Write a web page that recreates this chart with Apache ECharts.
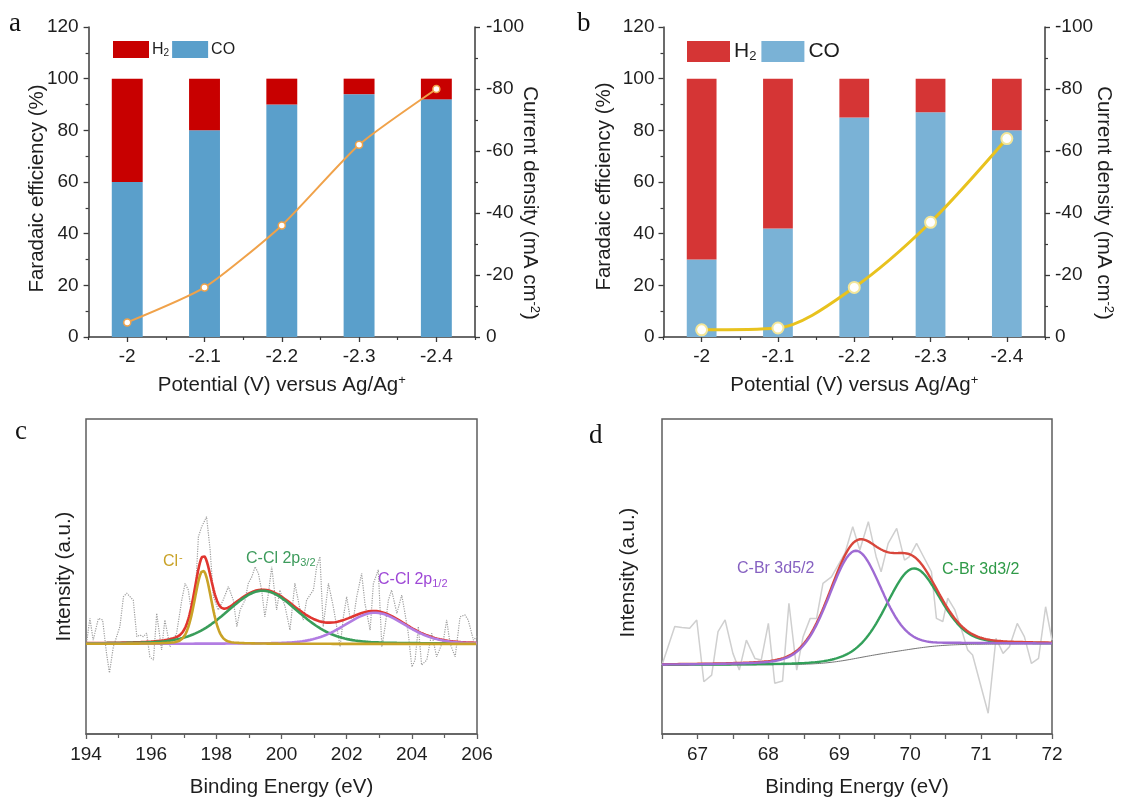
<!DOCTYPE html>
<html>
<head>
<meta charset="utf-8">
<script src="https://cdn.jsdelivr.net/npm/echarts@6/dist/echarts.min.js"></script>
<style>
  html, body { margin: 0; padding: 0; background: #fff; }
  #chart { width: 1125px; height: 801px; }
</style>
</head>
<body>
<div id="chart"></div>
<script>
// ---- Faradaic efficiency and current density versus potential ----
const potentials = ['-2', '-2.1', '-2.2', '-2.3', '-2.4'];
const feCO_a = [60, 80, 90, 94, 92];
const feH2_a = [40, 20, 10, 6, 8];
const current_a = [-4.7, -16, -36, -62, -80];
const feCO_b = [30, 42, 85, 87, 80];
const feH2_b = [70, 58, 15, 13, 20];
const current_b = [-2.3, -2.9, -16, -37, -64];
const feTicks = [0, 20, 40, 60, 80, 100, 120];
const currentTicks = [-100, -80, -60, -40, -20, 0];

// ---- Cl 2p spectrum: raw counts and fitted peaks ----
const clRawEnergy = [194.02, 194.12, 194.22, 194.38, 194.51, 194.63, 194.72, 194.84, 194.94, 195.04,
  195.15, 195.25, 195.35, 195.45, 195.56, 195.66, 195.76, 195.86, 195.96, 196.07,
  196.17, 196.32, 196.42, 196.58, 196.78, 196.94, 197.04, 197.14, 197.24, 197.35,
  197.45, 197.55, 197.65, 197.70, 197.81, 197.91, 198.06, 198.21, 198.37, 198.52,
  198.63, 198.73, 198.88, 198.98, 199.09, 199.19, 199.29, 199.39, 199.49, 199.60,
  199.70, 199.85, 199.95, 200.11, 200.26, 200.41, 200.57, 200.67, 200.77, 200.98,
  201.08, 201.18, 201.28, 201.44, 201.59, 201.80, 201.90, 202.00, 202.10, 202.20,
  202.31, 202.46, 202.56, 202.72, 202.82, 202.97, 203.08, 203.18, 203.28, 203.38,
  203.54, 203.69, 203.79, 203.89, 204.00, 204.10, 204.20, 204.30, 204.46, 204.61,
  204.76, 204.97, 205.07, 205.17, 205.33, 205.48, 205.63, 205.73, 205.89, 206.00];
const clRawIntensity = [29.0, 36.7, 29.8, 36.7, 36.2, 25.6, 19.4, 27.7, 30.9, 34.1,
  43.6, 44.7, 43.6, 42.5, 30.9, 31.4, 30.9, 32.0, 24.5, 23.5,
  38.3, 26.7, 36.2, 27.7, 32.0, 42.5, 47.8, 45.7, 38.3, 43.6,
  62.6, 65.8, 67.9, 69.0, 58.4, 43.6, 39.4, 42.5, 46.8, 42.5,
  34.1, 39.4, 42.5, 47.8, 49.9, 53.1, 51.0, 45.7, 37.2, 44.7,
  53.1, 39.4, 45.7, 40.4, 33.0, 47.8, 39.4, 36.2, 42.5, 45.7,
  53.1, 56.3, 34.1, 47.8, 40.4, 27.7, 37.2, 43.6, 37.2, 36.2,
  43.6, 51.0, 41.5, 33.0, 47.8, 52.1, 27.7, 34.1, 42.5, 45.7,
  38.3, 44.1, 38.3, 32.0, 21.3, 23.5, 34.1, 21.9, 23.5, 32.0,
  24.5, 29.8, 36.2, 28.8, 24.5, 37.2, 37.8, 36.2, 29.8, 31.0];
const clBaseline = 28.6;
const clPeakNames = ['Cl-', 'C-Cl 2p3/2', 'C-Cl 2p1/2'];
const clPeakCentres = [197.59, 199.42, 202.87];
const clPeakHeights = [23.3, 16.9, 9.9];
const clPeakFwhm = [0.6, 2.6, 2.2];

// ---- Br 3d spectrum: raw counts and fitted peaks ----
const brRawEnergy = [66.50, 66.68, 66.78, 66.89, 66.99, 67.09, 67.20, 67.29, 67.39, 67.50,
  67.59, 67.69, 67.81, 67.90, 68.00, 68.09, 68.20, 68.29, 68.40, 68.49,
  68.59, 68.68, 68.77, 68.89, 69.08, 69.19, 69.29, 69.41, 69.52, 69.59,
  69.69, 69.81, 69.92, 69.99, 70.09, 70.20, 70.30, 70.37, 70.46, 70.53,
  70.63, 70.74, 70.81, 70.88, 71.10, 71.21, 71.31, 71.40, 71.51, 71.61,
  71.71, 71.81, 71.91, 72.00];
const brRawIntensity = [21.9, 34.1, 33.8, 33.6, 36.2, 16.6, 18.7, 32.5, 36.2, 25.6,
  20.3, 29.8, 24.0, 23.5, 35.1, 16.1, 16.8, 41.5, 20.3, 30.9,
  36.7, 36.7, 47.8, 49.9, 57.4, 65.8, 58.4, 67.4, 56.3, 51.5,
  60.5, 65.3, 55.2, 56.3, 60.5, 55.8, 51.5, 36.7, 35.7, 43.1,
  39.4, 32.0, 26.7, 25.1, 6.6, 30.4, 25.6, 27.7, 35.1, 30.9,
  22.4, 24.0, 40.4, 29.8];
const brBackgroundLow = 21.9;
const brBackgroundHigh = 28.6;
const brPeakCentres = [69.22, 70.04];
const brPeakHeights = [34.2, 25.5];
const brPeakFwhm = [0.88, 0.88];

// ---- fit model helpers ----
function pseudoVoigt(x, centre, height, fwhm) {
  const t = (x - centre) / fwhm;
  return height * (0.8 * Math.exp(-4 * Math.LN2 * t * t) + 0.2 / (1 + 4 * t * t));
}
function energyGrid(from, to, step) {
  const out = [];
  const n = Math.round((to - from) / step);
  for (let i = 0; i <= n; i++) out.push(+(from + i * step).toFixed(3));
  return out;
}
const zip = (xs, ys) => xs.map((x, i) => [x, ys[i]]);

// Cl 2p components on a flat baseline
const clGrid = energyGrid(194, 206, 0.02);
const clComponents = clPeakCentres.map((c, k) =>
  clGrid.map(e => [e, clBaseline + pseudoVoigt(e, c, clPeakHeights[k], clPeakFwhm[k])]));
const clEnvelope = clGrid.map((e, i) =>
  [e, clBaseline + clComponents.reduce((s, comp) => s + comp[i][1] - clBaseline, 0)]);

// Br 3d components on a Shirley-type background
const brGrid = energyGrid(66.5, 72, 0.01);
const brPeakSum = brGrid.map(e =>
  brPeakCentres.reduce((s, c, k) => s + pseudoVoigt(e, c, brPeakHeights[k], brPeakFwhm[k]), 0));
const brCum = [0];
for (let i = 1; i < brGrid.length; i++) brCum.push(brCum[i - 1] + (brPeakSum[i] + brPeakSum[i - 1]) / 2);
const brBackground = brGrid.map((e, i) =>
  brBackgroundLow + (brBackgroundHigh - brBackgroundLow) * brCum[i] / brCum[brCum.length - 1]);
const brComponents = brPeakCentres.map((c, k) =>
  brGrid.map((e, i) => [e, brBackground[i] + pseudoVoigt(e, c, brPeakHeights[k], brPeakFwhm[k])]));
const brEnvelope = brGrid.map((e, i) => [e, brBackground[i] + brPeakSum[i]]);

// ---- styling ----
const sans = 'Liberation Sans, Arial, Helvetica, sans-serif';
const serif = 'Liberation Serif, Times New Roman, serif';
const ink = '#1e1e1e';
const axisInk = '#3a3a3a';
const frameInk = '#5e5e5e';
const tickFont = 19;
const nameFont = 20.5;

const supRich = { sup: { fontSize: 13, fontFamily: sans, color: ink, padding: [0, 0, 10, 0] } };

function feAxis(grid, gap, margin, shift) {
  return {
    type: 'value', gridIndex: grid, min: 0, max: 120, interval: 20, position: 'left',
    name: 'Faradaic efficiency (%)', nameLocation: 'middle', nameRotate: 90, nameGap: gap, nameMoveOverlap: false,
    nameTextStyle: { fontSize: nameFont, fontFamily: sans, color: ink, padding: [0, shift, 0, 0] },
    axisLine: { show: true, lineStyle: { color: axisInk, width: 1.5 } },
    axisTick: { show: true, length: 5, lineStyle: { color: axisInk, width: 1.3 } },
    minorTick: { show: true, splitNumber: 2, length: 3, lineStyle: { color: axisInk, width: 1.2 } },
    axisLabel: { fontSize: tickFont, fontFamily: sans, color: ink, margin: margin },
    splitLine: { show: false }
  };
}
function currentAxis(grid, gap, margin, shift) {
  return {
    type: 'value', gridIndex: grid, min: -100, max: 0, interval: 20, inverse: true, position: 'right',
    name: 'Current density (mA cm{sup|-2})', nameLocation: 'middle', nameRotate: -90, nameGap: gap,
    nameMoveOverlap: false,
    nameTextStyle: { fontSize: nameFont, fontFamily: sans, color: ink, rich: supRich, padding: [0, 0, 0, shift] },
    axisLine: { show: true, lineStyle: { color: axisInk, width: 1.5 } },
    axisTick: { show: true, length: 5, lineStyle: { color: axisInk, width: 1.3 } },
    minorTick: { show: true, splitNumber: 2, length: 3, lineStyle: { color: axisInk, width: 1.2 } },
    axisLabel: { fontSize: tickFont, fontFamily: sans, color: ink, margin: margin },
    splitLine: { show: false }
  };
}
function potentialAxis(grid) {
  return {
    type: 'category', gridIndex: grid, data: potentials, position: 'bottom',
    name: 'Potential (V) versus Ag/Ag{sup|+}', nameLocation: 'middle', nameGap: 37, nameMoveOverlap: false,
    nameTextStyle: { fontSize: nameFont, fontFamily: sans, color: ink, rich: supRich },
    axisLine: { show: true, lineStyle: { color: axisInk, width: 1.5 } },
    axisTick: { show: true, alignWithLabel: true, length: 5, lineStyle: { color: axisInk, width: 1.3 } },
    axisLabel: { fontSize: tickFont, fontFamily: sans, color: ink, margin: 10 },
    splitLine: { show: false }
  };
}
function potentialBoundaryAxis(grid) {
  // short ticks between the potential categories
  return {
    type: 'category', gridIndex: grid, data: potentials, position: 'bottom',
    axisLine: { show: false },
    axisTick: { show: true, length: 3, interval: 0, lineStyle: { color: axisInk, width: 1.2 } },
    axisLabel: { show: false }, splitLine: { show: false }
  };
}
function energyAxis(grid, min, max, interval, labelFilter, minor) {
  return {
    type: 'value', gridIndex: grid, min: min, max: max, interval: interval,
    name: 'Binding Energy (eV)', nameLocation: 'middle', nameGap: 43, nameMoveOverlap: false,
    nameTextStyle: { fontSize: nameFont, fontFamily: sans, color: ink },
    axisLine: { show: true, onZero: false, lineStyle: { color: frameInk, width: 1.5 } },
    axisTick: { show: true, length: 5, lineStyle: { color: frameInk, width: 1.3 } },
    minorTick: { show: minor, splitNumber: 2, length: 4, lineStyle: { color: frameInk, width: 1.2 } },
    axisLabel: { fontSize: tickFont, fontFamily: sans, color: ink, margin: 11, formatter: labelFilter },
    splitLine: { show: false }
  };
}
function intensityAxis(grid, gap, shift) {
  return {
    type: 'value', gridIndex: grid, min: 0, max: 100,
    name: 'Intensity (a.u.)', nameLocation: 'middle', nameRotate: 90, nameGap: gap, nameMoveOverlap: false,
    nameTextStyle: { fontSize: nameFont, fontFamily: sans, color: ink, padding: [0, 0, 0, shift] },
    axisLine: { show: false }, axisTick: { show: false }, axisLabel: { show: false },
    splitLine: { show: false }
  };
}
function fitLine(xi, data, color, width) {
  return {
    type: 'line', xAxisIndex: xi, yAxisIndex: xi, data: data, symbol: 'none', silent: true,
    lineStyle: { color: color, width: width }
  };
}

const colors = {
  aH2: '#c80000', aCO: '#5a9fcb', aLine: '#f0a24a',
  bH2: '#d53535', bCO: '#7ab2d6', bLine: '#e8c21e', bMark: '#f3e69a',
  clRed: '#e0352f', clGreen: '#3a9d5a', clPurple: '#b27de2', clGold: '#c9a227',
  brRed: '#d8463b', brPurple: '#9f6bd3', brGreen: '#33a05a', brBg: '#747474'
};

const option = {
  animation: false,
  backgroundColor: '#ffffff',
  textStyle: { fontFamily: sans },
  grid: [
    { left: 88.6, top: 27, width: 386.4, height: 310, outerBoundsMode: 'none' },
    { left: 663.5, top: 27, width: 381.5, height: 310, outerBoundsMode: 'none' },
    { left: 86, top: 419, width: 391, height: 315, show: true, borderColor: frameInk, borderWidth: 1.5, outerBoundsMode: 'none' },
    { left: 662, top: 419, width: 390, height: 315, show: true, borderColor: frameInk, borderWidth: 1.5, outerBoundsMode: 'none' }
  ],
  xAxis: [
    potentialAxis(0), potentialBoundaryAxis(0),
    potentialAxis(1), potentialBoundaryAxis(1),
    energyAxis(2, 194, 206, 2, v => v, true),
    energyAxis(3, 66.5, 72, 0.5, v => (Math.abs(v - Math.round(v)) < 1e-6 ? String(Math.round(v)) : ''), false)
  ],
  yAxis: [
    feAxis(0, 41, 10, 13), currentAxis(0, 43, 11, 42),
    feAxis(1, 49, 9, 9), currentAxis(1, 47, 10, 42),
    intensityAxis(2, 11, 0), intensityAxis(3, 23, 8)
  ],
  legend: [
    {
      left: 108, top: 36, orient: 'horizontal', icon: 'rect', itemWidth: 36, itemHeight: 17, itemGap: 3,
      selectedMode: false,
      data: [{ name: 'H2', itemStyle: { color: colors.aH2 } }, { name: 'CO', itemStyle: { color: colors.aCO } }],
      formatter: n => (n === 'H2' ? 'H{sub|2}' : n),
      textStyle: {
        fontSize: 16, fontFamily: sans, color: ink, padding: [0, 0, 0, -2],
        rich: { sub: { fontSize: 10, fontFamily: sans, color: ink, padding: [7, 0, 0, 0] } }
      }
    },
    {
      left: 682, top: 36, orient: 'horizontal', icon: 'rect', itemWidth: 43, itemHeight: 21, itemGap: 5,
      selectedMode: false,
      data: [{ name: 'H2', itemStyle: { color: colors.bH2 } }, { name: 'CO', itemStyle: { color: colors.bCO } }],
      formatter: n => (n === 'H2' ? 'H{sub|2}' : n),
      textStyle: {
        fontSize: 21, fontFamily: sans, color: ink, padding: [0, 0, 0, -1],
        rich: { sub: { fontSize: 13, fontFamily: sans, color: ink, padding: [9, 0, 0, 0] } }
      }
    }
  ],
  series: [
    // panel a
    { type: 'bar', name: 'CO', xAxisIndex: 0, yAxisIndex: 0, stack: 'fa', data: feCO_a, barWidth: '40%',
      itemStyle: { color: colors.aCO } },
    { type: 'bar', name: 'H2', xAxisIndex: 0, yAxisIndex: 0, stack: 'fa', data: feH2_a, barWidth: '40%',
      itemStyle: { color: colors.aH2 } },
    { type: 'line', xAxisIndex: 0, yAxisIndex: 1, data: current_a, smooth: 0.2, symbol: 'circle', symbolSize: 7,
      lineStyle: { color: colors.aLine, width: 2 },
      itemStyle: { color: '#ffffff', borderColor: colors.aLine, borderWidth: 1.5 }, z: 5 },
    // panel b
    { type: 'bar', name: 'CO', xAxisIndex: 2, yAxisIndex: 2, stack: 'fb', data: feCO_b, barWidth: '39%',
      itemStyle: { color: colors.bCO } },
    { type: 'bar', name: 'H2', xAxisIndex: 2, yAxisIndex: 2, stack: 'fb', data: feH2_b, barWidth: '39%',
      itemStyle: { color: colors.bH2 } },
    { type: 'line', xAxisIndex: 2, yAxisIndex: 3, data: current_b, smooth: 0.3, symbol: 'circle', symbolSize: 11,
      lineStyle: { color: colors.bLine, width: 3 },
      itemStyle: { color: '#ffffff', borderColor: colors.bMark, borderWidth: 2 }, z: 5 },
    // panel c
    { type: 'line', xAxisIndex: 4, yAxisIndex: 4, data: zip(clRawEnergy, clRawIntensity), symbol: 'none', silent: true,
      lineStyle: { color: '#9e9e9e', width: 1.2, type: 'dotted' } },
    fitLine(4, clEnvelope, colors.clRed, 2.6),
    fitLine(4, clComponents[1], colors.clGreen, 2.6),
    fitLine(4, clComponents[2], colors.clPurple, 2.6),
    fitLine(4, clComponents[0], colors.clGold, 2.6),
    // panel d
    { type: 'line', xAxisIndex: 5, yAxisIndex: 5, data: zip(brRawEnergy, brRawIntensity), symbol: 'none', silent: true,
      lineStyle: { color: '#cfcfcf', width: 1.5 } },
    fitLine(5, zip(brGrid, brBackground), colors.brBg, 1),
    fitLine(5, brComponents[1], colors.brGreen, 2.4),
    fitLine(5, brEnvelope, colors.brRed, 2.4),
    fitLine(5, brComponents[0], colors.brPurple, 2.4)
  ],
  graphic: [
    { type: 'text', x: 9, y: 24, style: { text: 'a', fontSize: 27, fontFamily: serif, fill: '#111', textVerticalAlign: 'middle' } },
    { type: 'text', x: 577, y: 24, style: { text: 'b', fontSize: 27, fontFamily: serif, fill: '#111', textVerticalAlign: 'middle' } },
    { type: 'text', x: 15, y: 432, style: { text: 'c', fontSize: 27, fontFamily: serif, fill: '#111', textVerticalAlign: 'middle' } },
    { type: 'text', x: 589, y: 436, style: { text: 'd', fontSize: 27, fontFamily: serif, fill: '#111', textVerticalAlign: 'middle' } },
    { type: 'text', x: 163, y: 562, style: {
      text: 'Cl{s|-}', fontSize: 16, fontFamily: sans, fill: colors.clGold, textVerticalAlign: 'middle',
      rich: { s: { fontSize: 11, fontFamily: sans, fill: colors.clGold, padding: [0, 0, 9, 1] } } } },
    { type: 'text', x: 246, y: 559, style: {
      text: 'C-Cl 2p{s|3/2}', fontSize: 16, fontFamily: sans, fill: '#3d9b5c', textVerticalAlign: 'middle',
      rich: { s: { fontSize: 11, fontFamily: sans, fill: '#3d9b5c', padding: [8, 0, 0, 0] } } } },
    { type: 'text', x: 378, y: 580, style: {
      text: 'C-Cl 2p{s|1/2}', fontSize: 16, fontFamily: sans, fill: '#9e48d6', textVerticalAlign: 'middle',
      rich: { s: { fontSize: 11, fontFamily: sans, fill: '#9e48d6', padding: [8, 0, 0, 0] } } } },
    { type: 'text', x: 737, y: 569, style: { text: 'C-Br 3d5/2', fontSize: 16, fontFamily: sans, fill: '#8661c1', textVerticalAlign: 'middle' } },
    { type: 'text', x: 942, y: 570, style: { text: 'C-Br 3d3/2', fontSize: 16, fontFamily: sans, fill: '#2f9a48', textVerticalAlign: 'middle' } }
  ]
};

const chart = echarts.init(document.getElementById('chart'), null, { renderer: 'canvas', width: 1125, height: 801 });
chart.setOption(option);
</script>
</body>
</html>
